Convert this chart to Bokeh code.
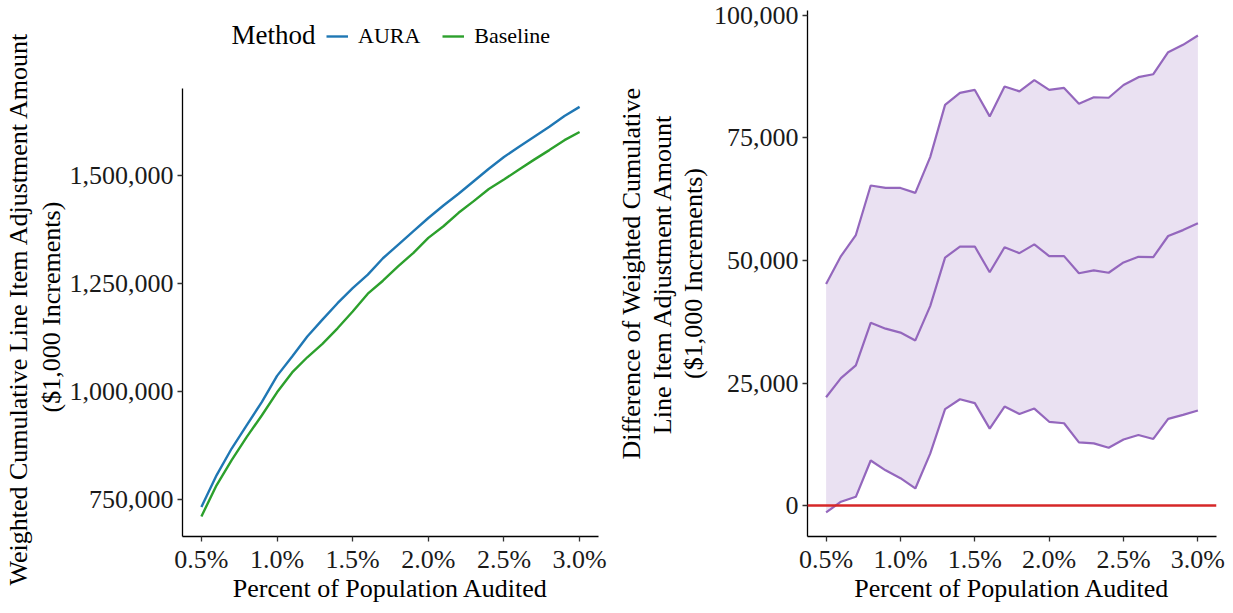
from bokeh.plotting import figure
from bokeh.layouts import row
from bokeh.models import (Range1d, FixedTicker, PrintfTickFormatter, NumeralTickFormatter,
                          Legend, LegendItem, Span, Label, Title)
from bokeh.embed import file_html
from bokeh.resources import INLINE

# ---------------- data ----------------
pct = [0.5, 0.6, 0.7, 0.8, 0.9, 1.0, 1.1, 1.2, 1.3, 1.4, 1.5, 1.6, 1.7,
       1.8, 1.9, 2.0, 2.1, 2.2, 2.3, 2.4, 2.5, 2.6, 2.7, 2.8, 2.9, 3.0]

aura = [733000, 806000, 868000, 922000, 976000, 1036000, 1081000, 1127000, 1166000,
        1204000, 1239000, 1270000, 1308000, 1339000, 1370000, 1401000, 1430000, 1457000,
        1486000, 1515000, 1542000, 1566000, 1589000, 1612000, 1637000, 1658000]

baseline = [711000, 783000, 841000, 895000, 945000, 998000, 1044000, 1079000, 1110000,
            1146000, 1185000, 1226000, 1256000, 1289000, 1320000, 1355000, 1382000, 1413000,
            1440000, 1468000, 1490000, 1513000, 1536000, 1558000, 1581000, 1600000]

diff_upper = [45200, 50900, 55200, 65300, 64800, 64800, 63800, 71100, 81750, 84200,
              84800, 79400, 85500, 84500, 86800, 84800, 85200, 82000, 83300, 83200,
              85800, 87400, 88000, 92500, 94000, 95900]

diff_mean = [22100, 26000, 28600, 37300, 36100, 35300, 33700, 40700, 50600, 52850,
             52850, 47600, 52700, 51500, 53300, 50900, 50900, 47400, 48000, 47500,
             49600, 50750, 50700, 55000, 56200, 57600]

diff_lower = [-1400, 800, 1800, 9200, 7200, 5600, 3500, 10600, 19700, 21700,
              20900, 15700, 20200, 18700, 19800, 17100, 16800, 12900, 12700, 11800,
              13500, 14400, 13600, 17700, 18500, 19400]

x_ticks = [0.5, 1.0, 1.5, 2.0, 2.5, 3.0]
left_y_ticks = [750000, 1000000, 1250000, 1500000]
right_y_ticks = [0, 25000, 50000, 75000, 100000]

methods = ["AURA", "Baseline"]
legend_title = "Method"
x_title = "Percent of Population Audited"
left_y_title_lines = ["Weighted Cumulative Line Item Adjustment Amount", "($1,000 Increments)"]
right_y_title = "Difference of Weighted Cumulative\nLine Item Adjustment Amount\n($1,000 Increments)"

# ---------------- styling ----------------
FONT = "Liberation Serif"
BLUE = "#1f77b4"
GREEN = "#2ca02c"
PURPLE = "#9467bd"
RED = "#d62728"
H = 613
TOP = 10         # frame top (px)
BOTTOM = 536     # frame bottom (px)
LEFT_TITLE_CENTER = 307   # vertical centre of the left y title (px)


def style(p):
    p.xgrid.visible = False
    p.ygrid.visible = False
    p.outline_line_color = None
    p.background_fill_color = "white"
    p.border_fill_color = "white"
    for ax in (p.xaxis[0], p.yaxis[0]):
        ax.axis_line_color = "black"
        ax.axis_line_width = 1.3
        ax.major_tick_line_color = "#333333"
        ax.major_tick_line_width = 1.3
        ax.major_tick_in = 0
        ax.major_tick_out = 5
        ax.minor_tick_line_color = None
        ax.major_label_text_font = FONT
        ax.major_label_text_font_size = "26px"
        ax.major_label_text_color = "#1a1a1a"
        ax.major_label_text_line_height = 1.0
        ax.axis_label_text_font = FONT
        ax.axis_label_text_font_size = "26px"
        ax.axis_label_text_font_style = "normal"
        ax.axis_label_text_color = "black"
        ax.axis_label_text_line_height = 1.07
    p.xaxis[0].major_label_standoff = 3
    p.yaxis[0].major_label_standoff = 4
    p.xaxis[0].axis_label_standoff = -3
    p.yaxis[0].axis_label_standoff = 3
    p.xaxis[0].ticker = FixedTicker(ticks=x_ticks)
    p.xaxis[0].formatter = PrintfTickFormatter(format="%.1f%%")
    p.yaxis[0].formatter = NumeralTickFormatter(format="0,0")
    p.xaxis[0].axis_label = x_title


# ---------------- left panel ----------------
W1 = 608
p1 = figure(width=W1, height=H, output_backend="svg", toolbar_location=None,
            x_range=Range1d(0.375, 3.125), y_range=Range1d(664600, 1880800),
            min_border_left=181, min_border_right=W1 - 598,
            min_border_top=TOP, min_border_bottom=H - BOTTOM)
style(p1)
p1.yaxis[0].ticker = FixedTicker(ticks=left_y_ticks)
p1.yaxis[0].bounds = (664600, 1700800)

# two title lines, each centred on the panel's vertical centre (added inner -> outer)
half_len = {left_y_title_lines[0]: 278, left_y_title_lines[1]: 105}
for line in reversed(left_y_title_lines):
    start = LEFT_TITLE_CENTER + half_len[line]
    p1.add_layout(Title(text=line, align="left", offset=BOTTOM - start, standoff=2,
                        text_font=FONT, text_font_size="26px", text_font_style="normal",
                        text_color="black", text_line_height=1.0), "left")

r_aura = p1.line(pct, aura, line_color=BLUE, line_width=2.4)
r_base = p1.line(pct, baseline, line_color=GREEN, line_width=2.4)

legend = Legend(items=[LegendItem(label=methods[0], renderers=[r_aura]),
                       LegendItem(label=methods[1], renderers=[r_base])])
legend.orientation = "horizontal"
legend.location = (144, BOTTOM - 36 - 13)
legend.label_text_font = FONT
legend.label_text_font_size = "22px"
legend.label_text_color = "black"
legend.glyph_width = 22
legend.glyph_height = 16
legend.label_standoff = 10
legend.spacing = 22
legend.padding = 0
legend.margin = 0
legend.border_line_color = None
legend.background_fill_alpha = 0
p1.add_layout(legend, "center")

p1.add_layout(Label(x=49, y=BOTTOM - 34, x_units="screen", y_units="screen",
                    text=legend_title, text_font=FONT, text_font_size="27px",
                    text_baseline="middle", text_align="left", text_color="black"))

# ---------------- right panel ----------------
W2 = 625
p2 = figure(width=W2, height=H, output_backend="svg", toolbar_location=None,
            x_range=Range1d(0.375, 3.125), y_range=Range1d(-6300, 101000),
            min_border_left=807 - W1, min_border_right=W1 + W2 - 1216,
            min_border_top=TOP, min_border_bottom=H - BOTTOM)
style(p2)
p2.yaxis[0].ticker = FixedTicker(ticks=right_y_ticks)
p2.yaxis[0].axis_label = right_y_title

p2.varea(x=pct, y1=diff_lower, y2=diff_upper, fill_color=PURPLE, fill_alpha=0.2)
p2.line(pct, diff_upper, line_color=PURPLE, line_width=2.2)
p2.line(pct, diff_mean, line_color=PURPLE, line_width=2.2)
p2.line(pct, diff_lower, line_color=PURPLE, line_width=2.2)
p2.add_layout(Span(location=0, dimension="width", line_color=RED, line_width=2.5))

layout = row(p1, p2)
open("out.html", "w").write(file_html(layout, INLINE))
